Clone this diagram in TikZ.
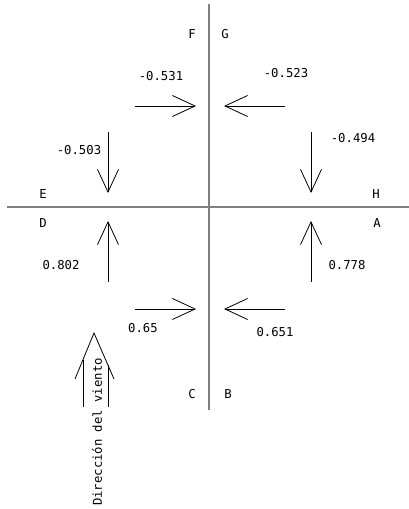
\documentclass[tikz,border=0pt]{standalone}
\usepackage{fontspec}
\setmonofont{DejaVu Sans Mono}
\usetikzlibrary{arrows.meta}
\definecolor{axisgray}{HTML}{808080}

\begin{document}
\begin{tikzpicture}[x=0.75pt,y=0.75pt,
    lbl/.style={font=\ttfamily\fontsize{9.2}{11}\selectfont, inner sep=0pt},
    coef/.style={line width=0.6pt, -{Straight Barb[length=17pt,width=15.75pt,line width=0.6pt]}}]
\useasboundingbox (-209,-302) rectangle (200,207);
% axes
\draw[axisgray, line width=1.1pt] (0,203) -- (0,-203);
\draw[axisgray, line width=1.1pt] (-202,0) -- (200,0);
% coefficient arrows
\foreach \xa/\ya/\xb/\yb in {-74/101/-13/101, 76/101/15/101, -101/75/-101/14, 102/75/102/14,
    -101/-75/-101/-14, 102/-75/102/-14, -74/-102/-13/-102, 76/-102/15/-102}{
    \draw[coef] (\xa,\ya) -- (\xb,\yb);
}
% labels
\foreach \txt/\xpos/\ypos in {F/-17/173, G/16/173, E/-166/13, H/167/13, D/-166/-16, A/168/-16,
    C/-17/-187, B/19/-187, -0.531/-48/131, -0.523/77/134, -0.503/-130/57, -0.494/144/69,
    0.802/-148/-58, 0.778/138/-58, 0.65/-66/-121, 0.651/66/-125}{
    \node[lbl] at (\xpos,\ypos) {\txt};
}
% wind direction
\coordinate (windtip) at (-115,-126);
\draw[line width=0.6pt] (-134,-172) -- (windtip) -- (-95,-172);
\draw[line width=0.6pt] (-126,-152.6) -- (-126,-200);
\draw[line width=0.6pt] (-101,-158.2) -- (-101,-200);
\node[lbl, rotate=90] (wind) at (-112,-225) {Dirección del viento};
\end{tikzpicture}
\end{document}
